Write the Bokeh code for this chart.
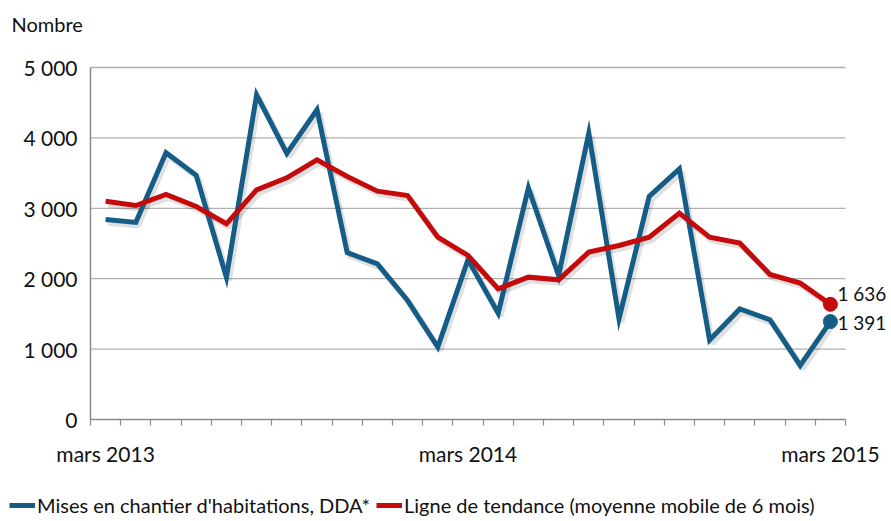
from bokeh.plotting import figure
from bokeh.models import (ColumnDataSource, FixedTicker, LinearAxis, Label, Legend,
                          LegendItem, Range1d, CustomJSTickFormatter)
from bokeh.embed import file_html
from bokeh.resources import INLINE

# ---- data ----
months = ["mars 2013", "avr 2013", "mai 2013", "juin 2013", "juil 2013", "août 2013",
          "sept 2013", "oct 2013", "nov 2013", "déc 2013", "janv 2014", "févr 2014",
          "mars 2014", "avr 2014", "mai 2014", "juin 2014", "juil 2014", "août 2014",
          "sept 2014", "oct 2014", "nov 2014", "déc 2014", "janv 2015", "févr 2015",
          "mars 2015"]
mises_en_chantier = [2840, 2800, 3790, 3470, 2020, 4610, 3780, 4400, 2370, 2210,
                     1690, 1030, 2270, 1510, 3290, 2045, 4070, 1430, 3170, 3560,
                     1130, 1570, 1416, 767, 1391]
tendance = [3100, 3040, 3196, 3025, 2780, 3262, 3433, 3689, 3452, 3243,
            3182, 2590, 2330, 1856, 2022, 1984, 2377, 2472, 2590, 2931,
            2590, 2505, 2060, 1937, 1636]
y_ticks = [0, 1000, 2000, 3000, 4000, 5000]
x_label_idx = [0, 12, 24]

BLUE = "#155d87"
RED = "#c40a0a"
FONT = "Lato"
TXT = "#111111"

W, H = 891, 521
n = len(months)
x = list(range(n))
x_lo, x_hi = -0.5, n - 0.5
y_lo, y_hi = y_ticks[0], y_ticks[-1]

# frame covers whole canvas; axes pinned with fixed_location
px_per_x = (845 - 90) / (x_hi - x_lo)
px_per_y = (419 - 67) / (y_hi - y_lo)
xr = Range1d(x_lo - 90 / px_per_x, x_hi + (W - 845) / px_per_x)
yr = Range1d(y_lo - (H - 419) / px_per_y, y_hi + 67 / px_per_y)

src = ColumnDataSource(dict(x=x, blue=mises_en_chantier, red=tendance,
                            xs=[v + 0.08 for v in x],
                            blue_s=[v - 45 for v in mises_en_chantier],
                            red_s=[v - 45 for v in tendance]))

p = figure(width=W, height=H, output_backend="svg", toolbar_location=None, title=None,
           x_range=xr, y_range=yr, min_border=0,
           x_axis_type=None, y_axis_type=None)
p.outline_line_color = None
p.xgrid.visible = False
p.ygrid.visible = False

# horizontal gridlines within the plot area
gl = y_ticks[1:]
p.segment(x0=[x_lo] * len(gl), x1=[x_hi] * len(gl), y0=gl, y1=gl,
          line_color="#b0b0b0", line_width=1.3)

# y axis
yaxis = LinearAxis(ticker=FixedTicker(ticks=y_ticks), fixed_location=x_lo, bounds=(y_lo, y_hi))
yaxis.formatter = CustomJSTickFormatter(code="""
    const s = Math.round(tick).toString();
    return s.replace(/\\B(?=(\\d{3})+(?!\\d))/g, ' ');
""")
yaxis.axis_line_color = "#8a8a8a"
yaxis.axis_line_width = 1.5
yaxis.major_tick_line_color = None
yaxis.minor_tick_line_color = None
yaxis.major_label_text_font = FONT
yaxis.major_label_text_font_size = "21px"
yaxis.major_label_text_color = TXT
yaxis.major_label_standoff = 7
p.add_layout(yaxis, "left")

# x axis line + tick marks at month boundaries
xaxis = LinearAxis(ticker=FixedTicker(ticks=[i - 0.5 for i in range(n + 1)]),
                   fixed_location=y_lo, bounds=(x_lo, x_hi))
xaxis.formatter = CustomJSTickFormatter(code="return '';")
xaxis.axis_line_color = "#8a8a8a"
xaxis.axis_line_width = 1.5
xaxis.major_tick_line_color = "#8a8a8a"
xaxis.major_tick_line_width = 1.2
xaxis.major_tick_in = 0
xaxis.major_tick_out = 6
xaxis.minor_tick_line_color = None
p.add_layout(xaxis, "below")

# x labels at chosen months
lab_map = {str(i): months[i] for i in x_label_idx}
xlab = LinearAxis(ticker=FixedTicker(ticks=x_label_idx), fixed_location=y_lo,
                  bounds=(x_lo, x_hi))
xlab.formatter = CustomJSTickFormatter(args=dict(m=lab_map),
                                       code="return m[String(Math.round(tick))] || '';")
xlab.axis_line_color = None
xlab.major_tick_line_color = None
xlab.minor_tick_line_color = None
xlab.major_tick_in = 0
xlab.major_tick_out = 6
xlab.major_label_text_font = FONT
xlab.major_label_text_font_size = "21px"
xlab.major_label_text_color = TXT
xlab.major_label_standoff = 15
p.add_layout(xlab, "below")

# shadows
p.line("xs", "blue_s", source=src, line_color="#000000", line_alpha=0.12, line_width=6)
p.line("xs", "red_s", source=src, line_color="#000000", line_alpha=0.12, line_width=6)

# lines
rb = p.line("x", "blue", source=src, line_color=BLUE, line_width=5, line_join="miter")
rr = p.line("x", "red", source=src, line_color=RED, line_width=5, line_join="miter")

last = n - 1
p.scatter([last], [mises_en_chantier[-1]], size=14, color=BLUE)
p.scatter([last], [tendance[-1]], size=14, color=RED)

def fmt(v):
    return f"{v:,}".replace(",", " ")

p.add_layout(Label(x=last, y=tendance[-1], text=fmt(tendance[-1]), x_offset=7, y_offset=11,
                   text_font=FONT, text_font_size="19px", text_color=TXT,
                   text_baseline="middle"))
p.add_layout(Label(x=last, y=mises_en_chantier[-1], text=fmt(mises_en_chantier[-1]), x_offset=7,
                   y_offset=-1, text_font=FONT, text_font_size="19px", text_color=TXT,
                   text_baseline="middle"))

# axis title
p.add_layout(Label(x=11, y=H - 23, x_units="screen", y_units="screen", text="Nombre",
                   text_font=FONT, text_font_size="20px", text_color=TXT,
                   text_baseline="middle"))

legend = Legend(items=[LegendItem(label="Mises en chantier d'habitations, DDA*", renderers=[rb]),
                       LegendItem(label="Ligne de tendance (moyenne mobile de 6 mois)", renderers=[rr])],
                location=(9, 4), orientation="horizontal",
                label_text_font=FONT, label_text_font_size="20px", label_text_color=TXT,
                glyph_width=26, glyph_height=10, label_standoff=2, spacing=6,
                padding=0, margin=0, border_line_color=None, background_fill_alpha=0)
p.add_layout(legend, "center")

open("out.html", "w").write(file_html(p, INLINE))
